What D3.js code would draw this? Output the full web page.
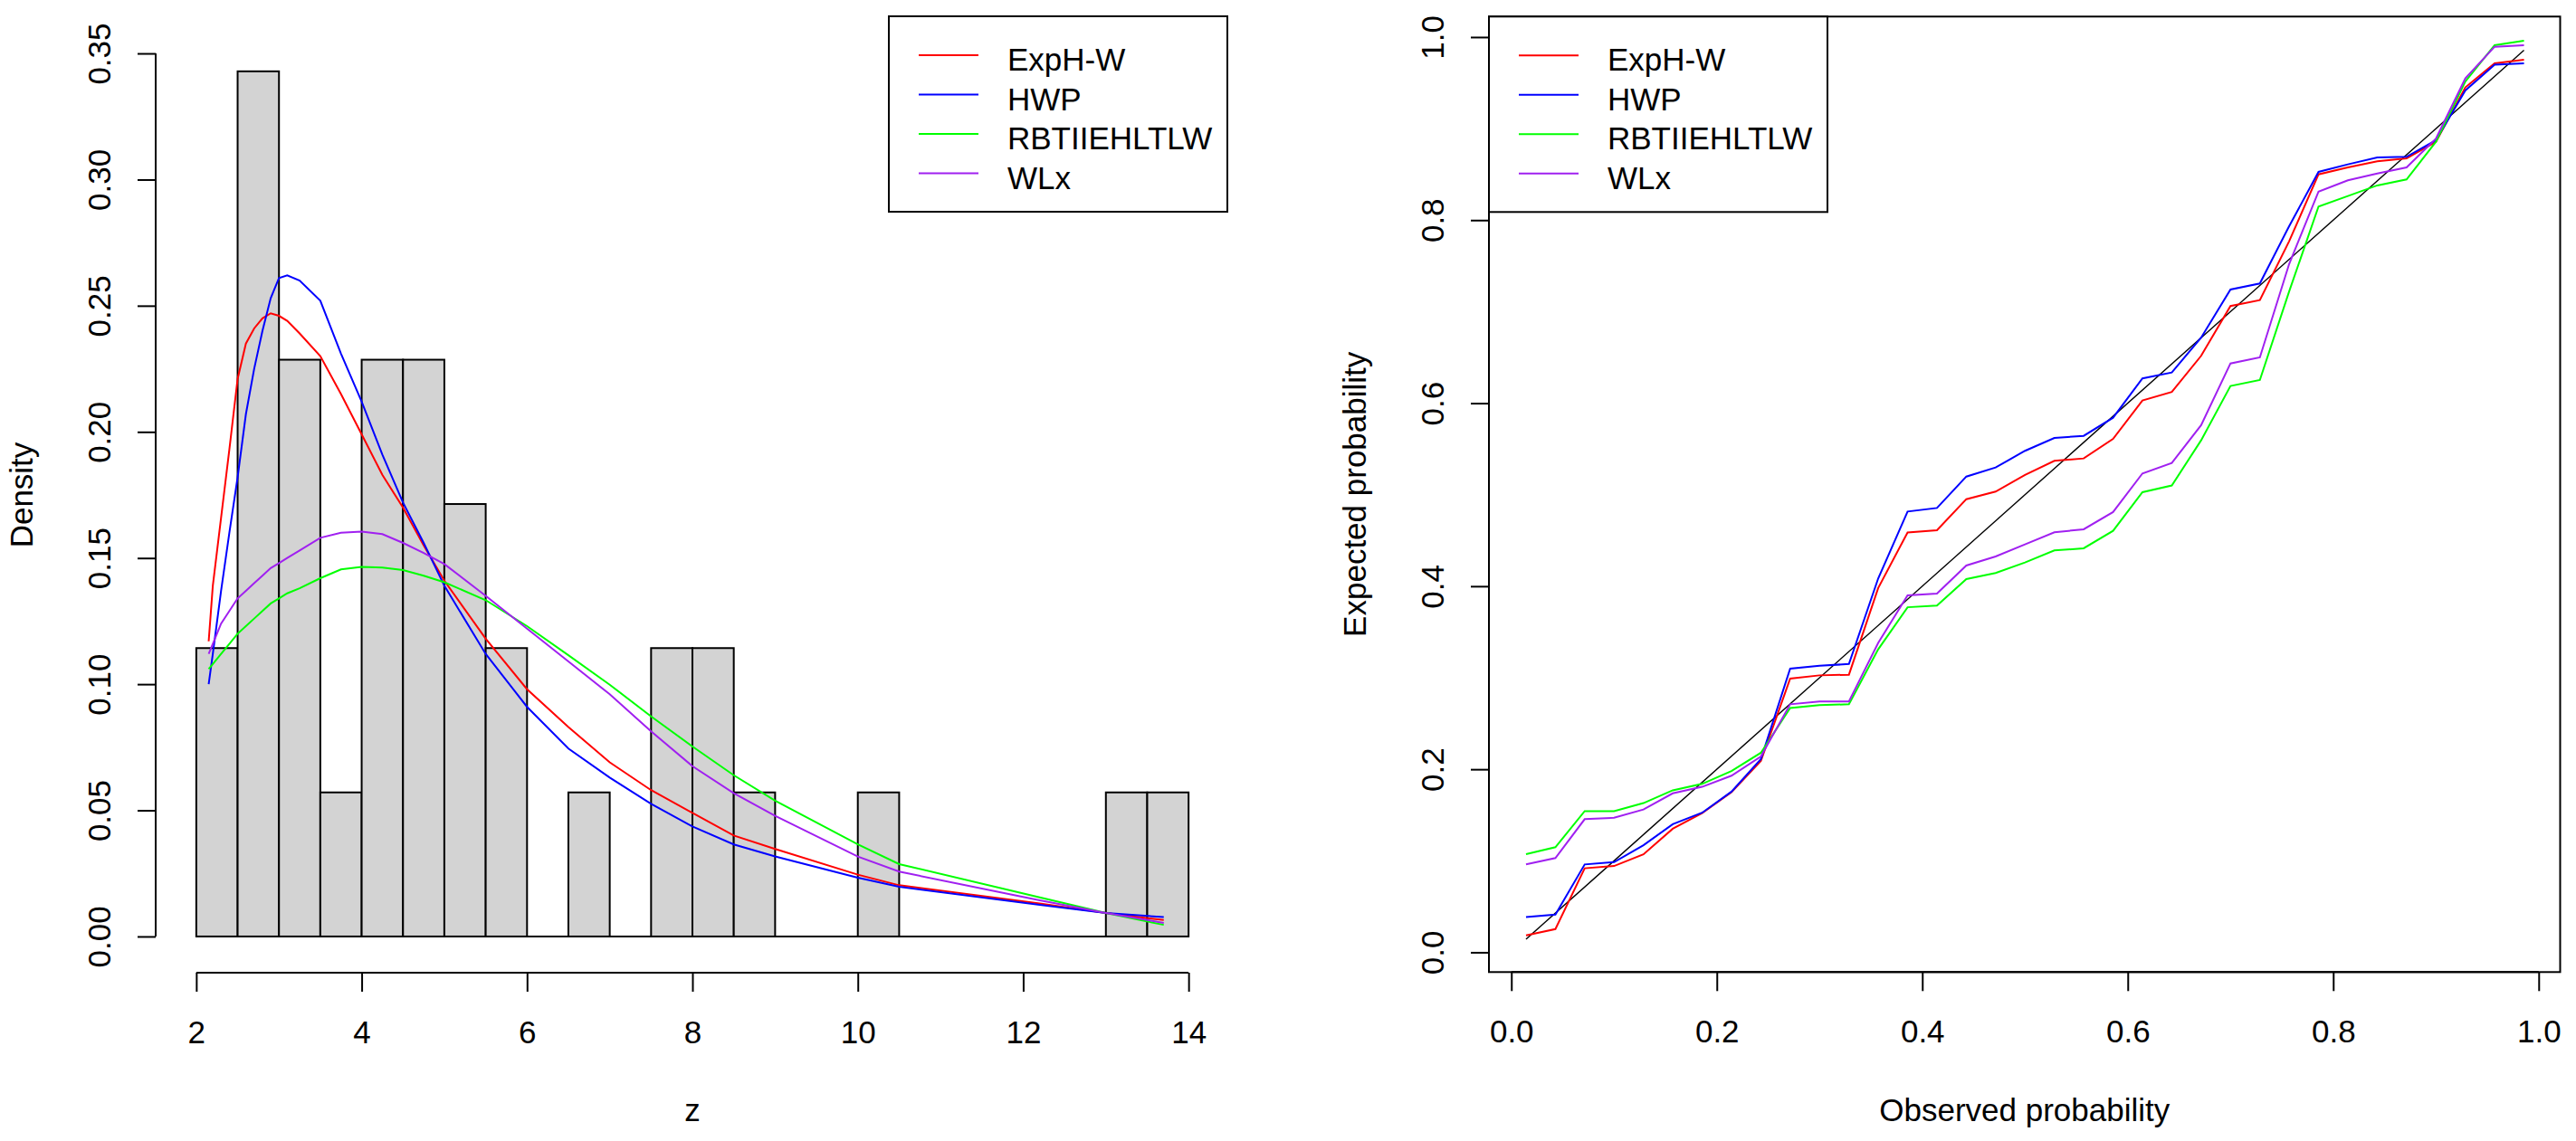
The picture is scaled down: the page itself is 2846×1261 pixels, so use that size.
<!DOCTYPE html>
<html>
<head>
<meta charset="utf-8">
<script src="https://cdn.jsdelivr.net/npm/d3@7"></script>
<style>
    body { margin: 0; background: #fff; }
    text { font-family: "Liberation Sans", Arial, sans-serif; }
</style>
</head>
<body>
<svg id="chart" width="2846" height="1261"></svg>
<script>
// histogram of z (bins of width 0.5)
const histBreaks = [2, 2.5, 3, 3.5, 4, 4.5, 5, 5.5, 6, 6.5, 7, 7.5, 8, 8.5, 9, 9.5, 10, 10.5, 11, 11.5, 12, 12.5, 13, 13.5, 14]
const histDensity = [0.1143, 0.3429, 0.2286, 0.0571, 0.2286, 0.2286, 0.1714, 0.1143, 0, 0.0571, 0, 0.1143,
    0.1143, 0.0571, 0, 0, 0.0571, 0, 0, 0, 0, 0, 0.0571, 0.0571]

// fitted densities
const densX = [2.15, 2.2, 2.3, 2.4, 2.5, 2.6, 2.7, 2.8, 2.9, 3.0, 3.1, 3.25, 3.5, 3.75, 4.0, 4.25, 4.5, 4.75,
    5.0, 5.5, 6.0, 6.5, 7.0, 7.5, 8.0, 8.5, 9.0, 10.0, 10.5, 12.2, 13.0, 13.7]
const densExpHW = [0.117, 0.139, 0.166, 0.193, 0.221, 0.235, 0.241, 0.245, 0.247, 0.246, 0.244, 0.239, 0.230, 0.215,
    0.199, 0.183, 0.170, 0.155, 0.141, 0.118, 0.098, 0.083, 0.069, 0.058, 0.049, 0.040, 0.0347, 0.0245, 0.0203,
    0.0131, 0.0093, 0.0065]
const densHWP = [0.100, 0.112, 0.137, 0.160, 0.182, 0.207, 0.225, 0.240, 0.253, 0.261, 0.262, 0.260, 0.252, 0.231,
    0.212, 0.191, 0.172, 0.156, 0.139, 0.112, 0.091, 0.0745, 0.063, 0.0526, 0.0436, 0.0365, 0.0317, 0.0233, 0.0197,
    0.0125, 0.0093, 0.0077]
const densRBT = [0.106, 0.108, 0.112, 0.116, 0.120, 0.123, 0.126, 0.129, 0.132, 0.134, 0.136, 0.138, 0.142, 0.1455,
    0.1465, 0.1462, 0.1452, 0.143, 0.1404, 0.1333, 0.123, 0.1115, 0.0998, 0.0872, 0.0753, 0.0639, 0.0538, 0.0365,
    0.0287, 0.0155, 0.0093, 0.0046]
const densWLx = [0.112, 0.116, 0.124, 0.129, 0.134, 0.137, 0.140, 0.143, 0.146, 0.148, 0.150, 0.153, 0.158, 0.160,
    0.1605, 0.1595, 0.156, 0.152, 0.1476, 0.135, 0.122, 0.109, 0.096, 0.0813, 0.0675, 0.0568, 0.0478, 0.0317,
    0.0257, 0.0143, 0.0093, 0.0054]

// P-P plot
const observed = [0.0143, 0.0429, 0.0714, 0.1, 0.1286, 0.1571, 0.1857, 0.2143, 0.2429, 0.2714, 0.3, 0.3286, 0.3571,
    0.3857, 0.4143, 0.4429, 0.4714, 0.5, 0.5286, 0.5571, 0.5857, 0.6143, 0.6429, 0.6714, 0.7, 0.7286, 0.7571,
    0.7857, 0.8143, 0.8429, 0.8714, 0.9, 0.9286, 0.9571, 0.9857]
const ppExpHW = [0.0184, 0.0254, 0.0918, 0.0943, 0.107, 0.135, 0.152, 0.175, 0.209, 0.299, 0.3026, 0.3033, 0.398,
    0.4587, 0.4612, 0.4951, 0.5034, 0.5215, 0.537, 0.5396, 0.561, 0.6029, 0.6122, 0.6517, 0.7061, 0.7126, 0.7769,
    0.850, 0.8576, 0.8643, 0.8675, 0.8856, 0.945, 0.9713, 0.9753]
const ppHWP = [0.0385, 0.0413, 0.096, 0.0985, 0.117, 0.140, 0.1525, 0.1755, 0.211, 0.310, 0.313, 0.315, 0.4085,
    0.4816, 0.4855, 0.5198, 0.5297, 0.5479, 0.562, 0.5643, 0.5841, 0.627, 0.6335, 0.6715, 0.7242, 0.7308, 0.7934,
    0.8527, 0.8609, 0.8685, 0.8692, 0.8873, 0.9417, 0.9697, 0.9713]
const ppRBT = [0.1073, 0.1148, 0.1543, 0.1543, 0.163, 0.177, 0.184, 0.198, 0.218, 0.267, 0.270, 0.271, 0.331,
    0.377, 0.3788, 0.4078, 0.4144, 0.4259, 0.4391, 0.4414, 0.4605, 0.5027, 0.51, 0.5594, 0.6187, 0.6253, 0.722,
    0.8148, 0.8263, 0.8379, 0.8445, 0.8856, 0.9515, 0.9911, 0.996]
const ppWLx = [0.096, 0.103, 0.1455, 0.147, 0.156, 0.1737, 0.1808, 0.193, 0.214, 0.271, 0.274, 0.274, 0.338,
    0.390, 0.392, 0.4226, 0.4325, 0.4457, 0.4589, 0.4622, 0.481, 0.5232, 0.5347, 0.5759, 0.6434, 0.65, 0.752,
    0.8312, 0.8435, 0.851, 0.8576, 0.889, 0.9548, 0.9894, 0.9911]

const seriesNames = ["ExpH-W", "HWP", "RBTIIEHLTLW", "WLx"]
const seriesColors = ["#ff0000", "#0000ff", "#00ff00", "#a020f0"]

const zTicks = [2, 4, 6, 8, 10, 12, 14]
const densTicks = [0, 0.05, 0.1, 0.15, 0.2, 0.25, 0.3, 0.35]
const probTicks = [0, 0.2, 0.4, 0.6, 0.8, 1.0]

const FS = 35
const svg = d3.select("#chart")
svg.append("rect").attr("width", 2846).attr("height", 1261).attr("fill", "#fff")

function bottomAxis(g, scale, ticks, y, fmt) {
    const ax = g.append("g").attr("transform", `translate(0,${y})`)
        .call(d3.axisBottom(scale).tickValues(ticks).tickFormat(fmt).tickSize(21).tickSizeOuter(0).tickPadding(32))
    ax.select(".domain").remove()
    ax.append("line")
        .attr("x1", scale(ticks[0])).attr("x2", scale(ticks[ticks.length - 1]))
        .attr("stroke", "#000").attr("stroke-width", 2)
    ax.selectAll("line").attr("stroke-width", 2)
    ax.selectAll("text").attr("font-size", FS).attr("fill", "#000")
        .style("font-family", '"Liberation Sans", Arial, sans-serif')
}

function leftAxis(g, scale, ticks, x, fmt) {
    const ax = g.append("g").attr("transform", `translate(${x},0)`)
        .call(d3.axisLeft(scale).tickValues(ticks).tickFormat(fmt).tickSize(20).tickSizeOuter(0))
    ax.select(".domain").remove()
    ax.append("line")
        .attr("y1", scale(ticks[0])).attr("y2", scale(ticks[ticks.length - 1]))
        .attr("stroke", "#000").attr("stroke-width", 2)
    ax.selectAll("line").attr("stroke-width", 2)
    ax.selectAll("text")
        .attr("x", null).attr("dy", null)
        .attr("text-anchor", "middle")
        .attr("transform", "translate(-50,0) rotate(-90)")
        .attr("font-size", FS).attr("fill", "#000")
        .style("font-family", '"Liberation Sans", Arial, sans-serif')
}

function legend(g, left, top) {
    const w = 374, h = 216
    g.append("rect")
        .attr("x", left).attr("y", top).attr("width", w).attr("height", h)
        .attr("fill", "#fff").attr("stroke", "#000").attr("stroke-width", 2)
    seriesNames.forEach((name, i) => {
        const cy = top + 43 + i * 43.5
        g.append("line")
            .attr("x1", left + 33).attr("x2", left + 99)
            .attr("y1", cy).attr("y2", cy)
            .attr("stroke", seriesColors[i]).attr("stroke-width", 2)
        g.append("text")
            .attr("x", left + 131).attr("y", cy + 17)
            .attr("font-size", FS)
            .text(name)
    })
}

// ---------- left panel: histogram + densities ----------
const left = svg.append("g")
const x1 = d3.scaleLinear().domain([1.52, 14.48]).range([173, 1357])
const y1 = d3.scaleLinear().domain([-0.014, 0.364]).range([1074, 20])

left.selectAll("rect.bar")
    .data(histDensity)
    .join("rect")
    .attr("class", "bar")
    .attr("x", (d, i) => x1(histBreaks[i]))
    .attr("width", (d, i) => x1(histBreaks[i + 1]) - x1(histBreaks[i]))
    .attr("y", d => y1(d))
    .attr("height", d => y1(0) - y1(d))
    .attr("fill", d => d > 0 ? "#d3d3d3" : "none")
    .attr("stroke", "#000")
    .attr("stroke-width", 2)

left.append("line")
    .attr("x1", x1(histBreaks[0])).attr("x2", x1(histBreaks[histBreaks.length - 1]))
    .attr("y1", y1(0)).attr("y2", y1(0))
    .attr("stroke", "#000").attr("stroke-width", 2)

const densLine = d3.line().x((d, i) => x1(densX[i])).y(d => y1(d))
const densSeries = [densExpHW, densHWP, densRBT, densWLx]
densSeries.forEach((s, k) => {
    left.append("path")
        .attr("d", densLine(s))
        .attr("fill", "none")
        .attr("stroke", seriesColors[k])
        .attr("stroke-width", 2)
})

bottomAxis(left, x1, zTicks, 1075, d3.format("d"))
leftAxis(left, y1, densTicks, 172, d3.format(".2f"))

left.append("text")
    .attr("x", x1(8)).attr("y", 1239)
    .attr("text-anchor", "middle").attr("font-size", FS)
    .text("z")
left.append("text")
    .attr("transform", `translate(36,${(y1.range()[0] + y1.range()[1]) / 2}) rotate(-90)`)
    .attr("text-anchor", "middle").attr("font-size", FS)
    .text("Density")

legend(left, 982, 18)

// ---------- right panel: P-P plot ----------
const right = svg.append("g")
const x2 = d3.scaleLinear().domain([-0.0218, 1.0209]).range([1645, 2828.5])
const y2 = d3.scaleLinear().domain([-0.0216, 1.0224]).range([1074.3, 18.3])

right.append("line")
    .attr("x1", x2(observed[0])).attr("y1", y2(observed[0]))
    .attr("x2", x2(observed[observed.length - 1])).attr("y2", y2(observed[observed.length - 1]))
    .attr("stroke", "#000").attr("stroke-width", 1.4)

const ppLine = d3.line().x((d, i) => x2(observed[i])).y(d => y2(d))
const ppSeries = [ppExpHW, ppHWP, ppRBT, ppWLx]
ppSeries.forEach((s, k) => {
    right.append("path")
        .attr("d", ppLine(s))
        .attr("fill", "none")
        .attr("stroke", seriesColors[k])
        .attr("stroke-width", 2)
})

right.append("rect")
    .attr("x", x2.range()[0]).attr("y", y2.range()[1])
    .attr("width", x2.range()[1] - x2.range()[0])
    .attr("height", y2.range()[0] - y2.range()[1])
    .attr("fill", "none").attr("stroke", "#000").attr("stroke-width", 2)

bottomAxis(right, x2, probTicks, 1074.3, d3.format(".1f"))
leftAxis(right, y2, probTicks, 1645, d3.format(".1f"))

right.append("text")
    .attr("x", (x2.range()[0] + x2.range()[1]) / 2).attr("y", 1239)
    .attr("text-anchor", "middle").attr("font-size", FS)
    .text("Observed probability")
right.append("text")
    .attr("transform", `translate(1509,${(y2.range()[0] + y2.range()[1]) / 2}) rotate(-90)`)
    .attr("text-anchor", "middle").attr("font-size", FS)
    .text("Expected probability")

legend(right, 1645, 18.3)
</script>
</body>
</html>
